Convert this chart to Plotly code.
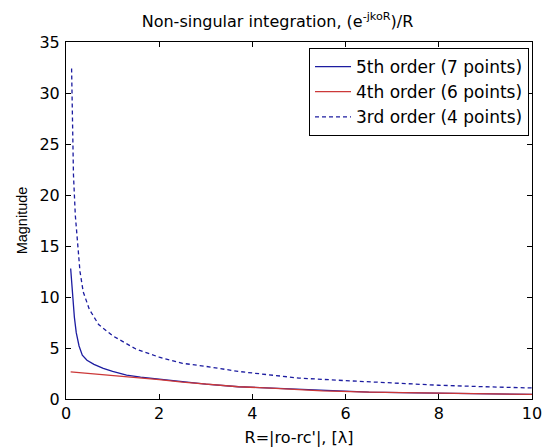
import plotly.graph_objects as go

# 5th order (7 points)
r5 = [0.1, 0.12, 0.14, 0.18, 0.22, 0.28, 0.35, 0.45, 0.6, 0.8, 1.0, 1.3, 1.6, 2.0, 2.5,
      3.0, 3.7, 4.5, 5.0, 5.5, 6.5, 7.5, 8.5, 9.5, 10.0]
m5 = [12.8, 11.5, 9.8, 8.0, 6.5, 5.2, 4.3, 3.8, 3.4, 3.0, 2.7, 2.35, 2.15, 1.95, 1.7,
      1.45, 1.2, 1.05, 0.95, 0.8, 0.68, 0.6, 0.55, 0.5, 0.45]
# 4th order (6 points)
r4 = [0.1, 0.5, 1.0, 1.5, 2.0, 2.5, 3.0, 3.7, 4.5, 5.0, 5.5, 6.5, 7.5, 8.5, 9.5, 10.0]
m4 = [2.65, 2.5, 2.3, 2.1, 1.9, 1.65, 1.45, 1.2, 1.05, 0.95, 0.8, 0.68, 0.6, 0.55, 0.5, 0.45]
# 3rd order (4 points)
r3 = [0.12, 0.13, 0.14, 0.16, 0.2, 0.25, 0.3, 0.37, 0.5, 0.7, 1.0, 1.5, 2.0, 2.5, 3.0,
      3.7, 4.5, 5.0, 6.0, 7.0, 8.0, 9.0, 10.0]
m3 = [32.4, 29.0, 25.0, 22.0, 18.0, 15.0, 12.5, 10.5, 8.8, 7.3, 6.2, 4.9, 4.1, 3.5, 3.2,
      2.7, 2.3, 2.05, 1.8, 1.55, 1.35, 1.2, 1.08]

names = ["5th order (7 points)", "4th order (6 points)", "3rd order (4 points)"]
xticks = [0, 2, 4, 6, 8, 10]
yticks = [0, 5, 10, 15, 20, 25, 30, 35]

FONT = "DejaVu Sans, Liberation Sans, Arial, sans-serif"
FONT_V = "Liberation Sans, Arial, sans-serif"

fig = go.Figure()
fig.add_trace(go.Scatter(x=r5, y=m5, mode="lines", name=names[0],
                         line=dict(color="#1c1ca0", width=1.3)))
fig.add_trace(go.Scatter(x=r4, y=m4, mode="lines", name=names[1],
                         line=dict(color="#cc3838", width=1.3)))
fig.add_trace(go.Scatter(x=r3, y=m3, mode="lines", name=names[2],
                         line=dict(color="#1c1ca0", width=1.3, dash="4px,3px")))

axis_common = dict(showgrid=False, zeroline=False, showline=True, linecolor="black",
                   linewidth=1, mirror="ticks", ticks="inside", ticklen=5,
                   tickcolor="black", automargin=False,
                   tickfont=dict(size=16, color="black", family=FONT))

fig.update_layout(
    width=555, height=447,
    margin=dict(l=66, r=23, t=42, b=48, autoexpand=False),
    paper_bgcolor="white", plot_bgcolor="white",
    font=dict(family=FONT, color="black", size=16),
    title=dict(text="Non-singular integration, (e<sup>-jkoR</sup>)/R",
               x=0.5, xanchor="center", y=0.953, yanchor="middle",
               font=dict(size=16, color="black", family=FONT)),
    xaxis=dict(range=[0, 10], tickvals=xticks,
               title=dict(text="R=|ro-rc'|, [λ]", standoff=9,
                          font=dict(size=16, family=FONT)),
               **axis_common),
    yaxis=dict(range=[0, 35], tickvals=yticks, ticklabelstandoff=2,
               title=dict(text="Magnitude", standoff=8,
                          font=dict(size=14.5, family=FONT_V)),
               **axis_common),
    showlegend=True,
    legend=dict(x=0.9936, y=0.983, xanchor="right", yanchor="top",
                bgcolor="white", bordercolor="black", borderwidth=1,
                font=dict(size=17, family=FONT, color="black"),
                tracegroupgap=0, itemwidth=36),
)

fig.write_html("out.html", config={"displayModeBar": False},
               post_script="document.body.style.margin='0px';")
